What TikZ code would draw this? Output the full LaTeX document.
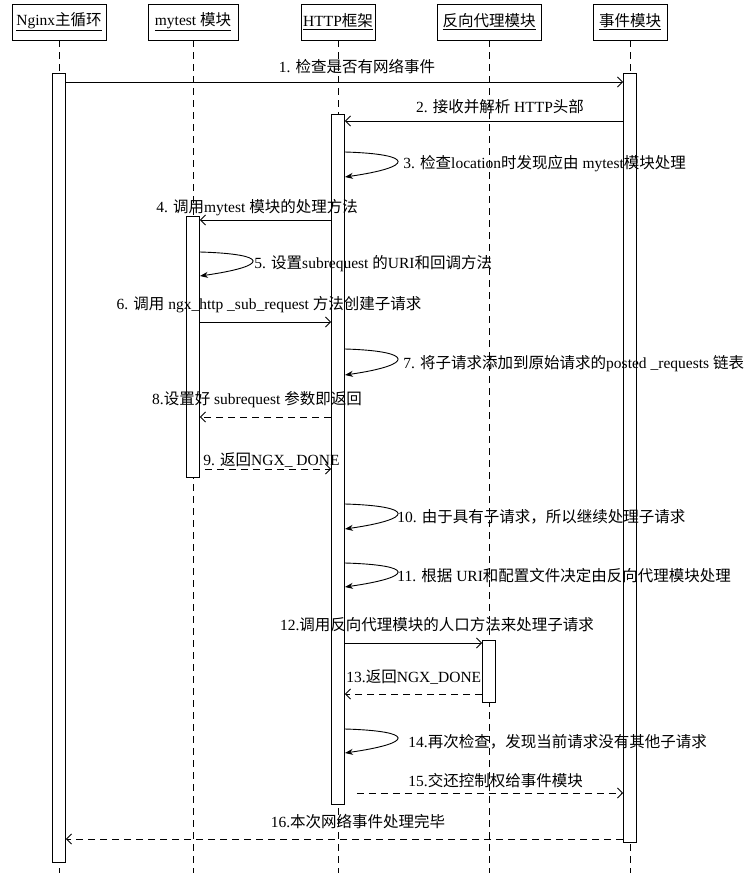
\documentclass[tikz,border=0pt]{standalone}
\usepackage{fontspec}
\setmainfont{Liberation Serif}
\newfontfamily\cjk{Noto Sans CJK SC}
\usetikzlibrary{arrows.meta}

% switch to the CJK font for Chinese characters
\XeTeXinterchartokenstate=1
\newXeTeXintercharclass\cjkclass
\count255="4E00
\loop\ifnum\count255<"A000
    \XeTeXcharclass\count255=\cjkclass
    \advance\count255 by 1
\repeat
\XeTeXcharclass"FF0C=\cjkclass
\XeTeXinterchartoks 0 \cjkclass={\cjk}
\XeTeXinterchartoks 4095 \cjkclass={\cjk}
\XeTeXinterchartoks \cjkclass 0={\rmfamily}
\XeTeXinterchartoks \cjkclass 4095={\rmfamily}

\begin{document}
\begin{tikzpicture}[x=1pt, y=-1pt, line width=0.9pt,
        font=\fontsize{15.5}{18}\selectfont,
        head/.style={draw, minimum height=36pt, inner xsep=2pt},
        bar/.style={draw, fill=white, minimum width=13pt, inner sep=0pt, anchor=north},
        life/.style={dash pattern=on 7pt off 5pt},
        msg/.style={-{Straight Barb[length=5pt, width=10pt]}},
        reply/.style={msg, dash pattern=on 7pt off 5pt},
        self/.style={-{Stealth[length=8pt, width=6pt]}},
        lbl/.style={inner sep=0pt}]
    \useasboundingbox (0,0) rectangle (752,873);
    \coordinate (bottom) at (0,873);

    % objects
    \draw
        (59, 22) node (nginx) [head, minimum width=94pt] {\underline{Nginx主循环}}
        (193, 22) node (mytest) [head, minimum width=90pt] {\underline{mytest 模块}}
        (338, 22) node (http) [head, minimum width=74pt] {\underline{HTTP框架}}
        (489, 22) node (proxy) [head, minimum width=104pt] {\underline{反向代理模块}}
        (630, 22) node (event) [head, minimum width=74pt] {\underline{事件模块}}
    ;
    \foreach \n in {nginx, mytest, http, proxy, event}
        \draw[life] (\n.south) -- (\n |- bottom);

    % activations
    \node (nginxbar) [bar, minimum height=789pt] at (nginx |- 0,73) {};
    \node (eventbar) [bar, minimum height=769pt] at (event |- 0,73) {};
    \node (httpbar) [bar, minimum height=690pt] at (http |- 0,114) {};
    \node (mytestbar) [bar, minimum height=261pt] at (mytest |- 0,216) {};
    \node (proxybar) [bar, minimum height=62pt] at (proxy |- 0,640) {};

    % messages
    \draw[msg] (nginxbar.east |- 0,82) -- (eventbar.west |- 0,82);
    \draw[msg] (eventbar.west |- 0,121) -- (httpbar.east |- 0,121);
    \draw[msg] (httpbar.west |- 0,220) -- (mytestbar.east |- 0,220);
    \draw[msg] (mytestbar.east |- 0,322) -- (httpbar.west |- 0,322);
    \draw[reply] (httpbar.west |- 0,417) -- (mytestbar.east |- 0,417);
    \draw[reply, shorten <=5pt] (mytestbar.east |- 0,469) -- (httpbar.west |- 0,469);
    \draw[msg] (httpbar.east |- 0,643) -- (proxybar.west |- 0,643);
    \draw[reply] (proxybar.west |- 0,694) -- (httpbar.east |- 0,694);
    \draw[reply, shorten <=12pt] (httpbar.east |- 0,793) -- (eventbar.west |- 0,793);
    \draw[reply] (eventbar.west |- 0,839) -- (nginxbar.east |- 0,839);

    % self calls
    \foreach \a/\b in {152/177, 349/375, 504/529, 563/587, 729/753}
        \draw[self] (httpbar.east |- 0,\a) .. controls +(70,2) and +(70,-10) .. (httpbar.east |- 0,\b);
    \draw[self] (mytestbar.east |- 0,252) .. controls +(70,2) and +(70,-10) .. (mytestbar.east |- 0,276);

    % labels
    \node (l1) [lbl] at (357, 67) {1. 检查是否有网络事件};
    \node (l2) [lbl] at (500, 107) {2. 接收并解析 HTTP头部};
    \node (l3) [lbl, anchor=west] at (403, 164) {3. 检查location时发现应由 mytest模块处理};
    \node (l4) [lbl] at (257, 208) {4. 调用mytest 模块的处理方法};
    \node (l5) [lbl, anchor=west] at (254, 264) {5. 设置subrequest 的URI和回调方法};
    \node (l6) [lbl] at (269, 305) {6. 调用 ngx\_http \_sub\_request 方法创建子请求};
    \node (l7) [lbl, anchor=west] at (403, 364) {7. 将子请求添加到原始请求的posted \_requests 链表};
    \node (l8) [lbl] at (257, 400) {8.设置好 subrequest 参数即返回};
    \node (l9) [lbl, anchor=west] at (203, 460) {9. 返回NGX\_ DONE};
    \node (l10) [lbl, anchor=west] at (397, 517) {10. 由于具有子请求，所以继续处理子请求};
    \node (l11) [lbl, anchor=west] at (397, 576) {11. 根据 URI和配置文件决定由反向代理模块处理};
    \node (l12) [lbl] at (437, 625) {12.调用反向代理模块的人口方法来处理子请求};
    \node (l13) [lbl, anchor=west] at (346, 677) {13.返回NGX\_DONE};
    \node (l14) [lbl, anchor=west] at (408, 742) {14.再次检查，发现当前请求没有其他子请求};
    \node (l15) [lbl, anchor=west] at (408, 781) {15.交还控制权给事件模块};
    \node (l16) [lbl] at (358, 822) {16.本次网络事件处理完毕};
\end{tikzpicture}
\end{document}
